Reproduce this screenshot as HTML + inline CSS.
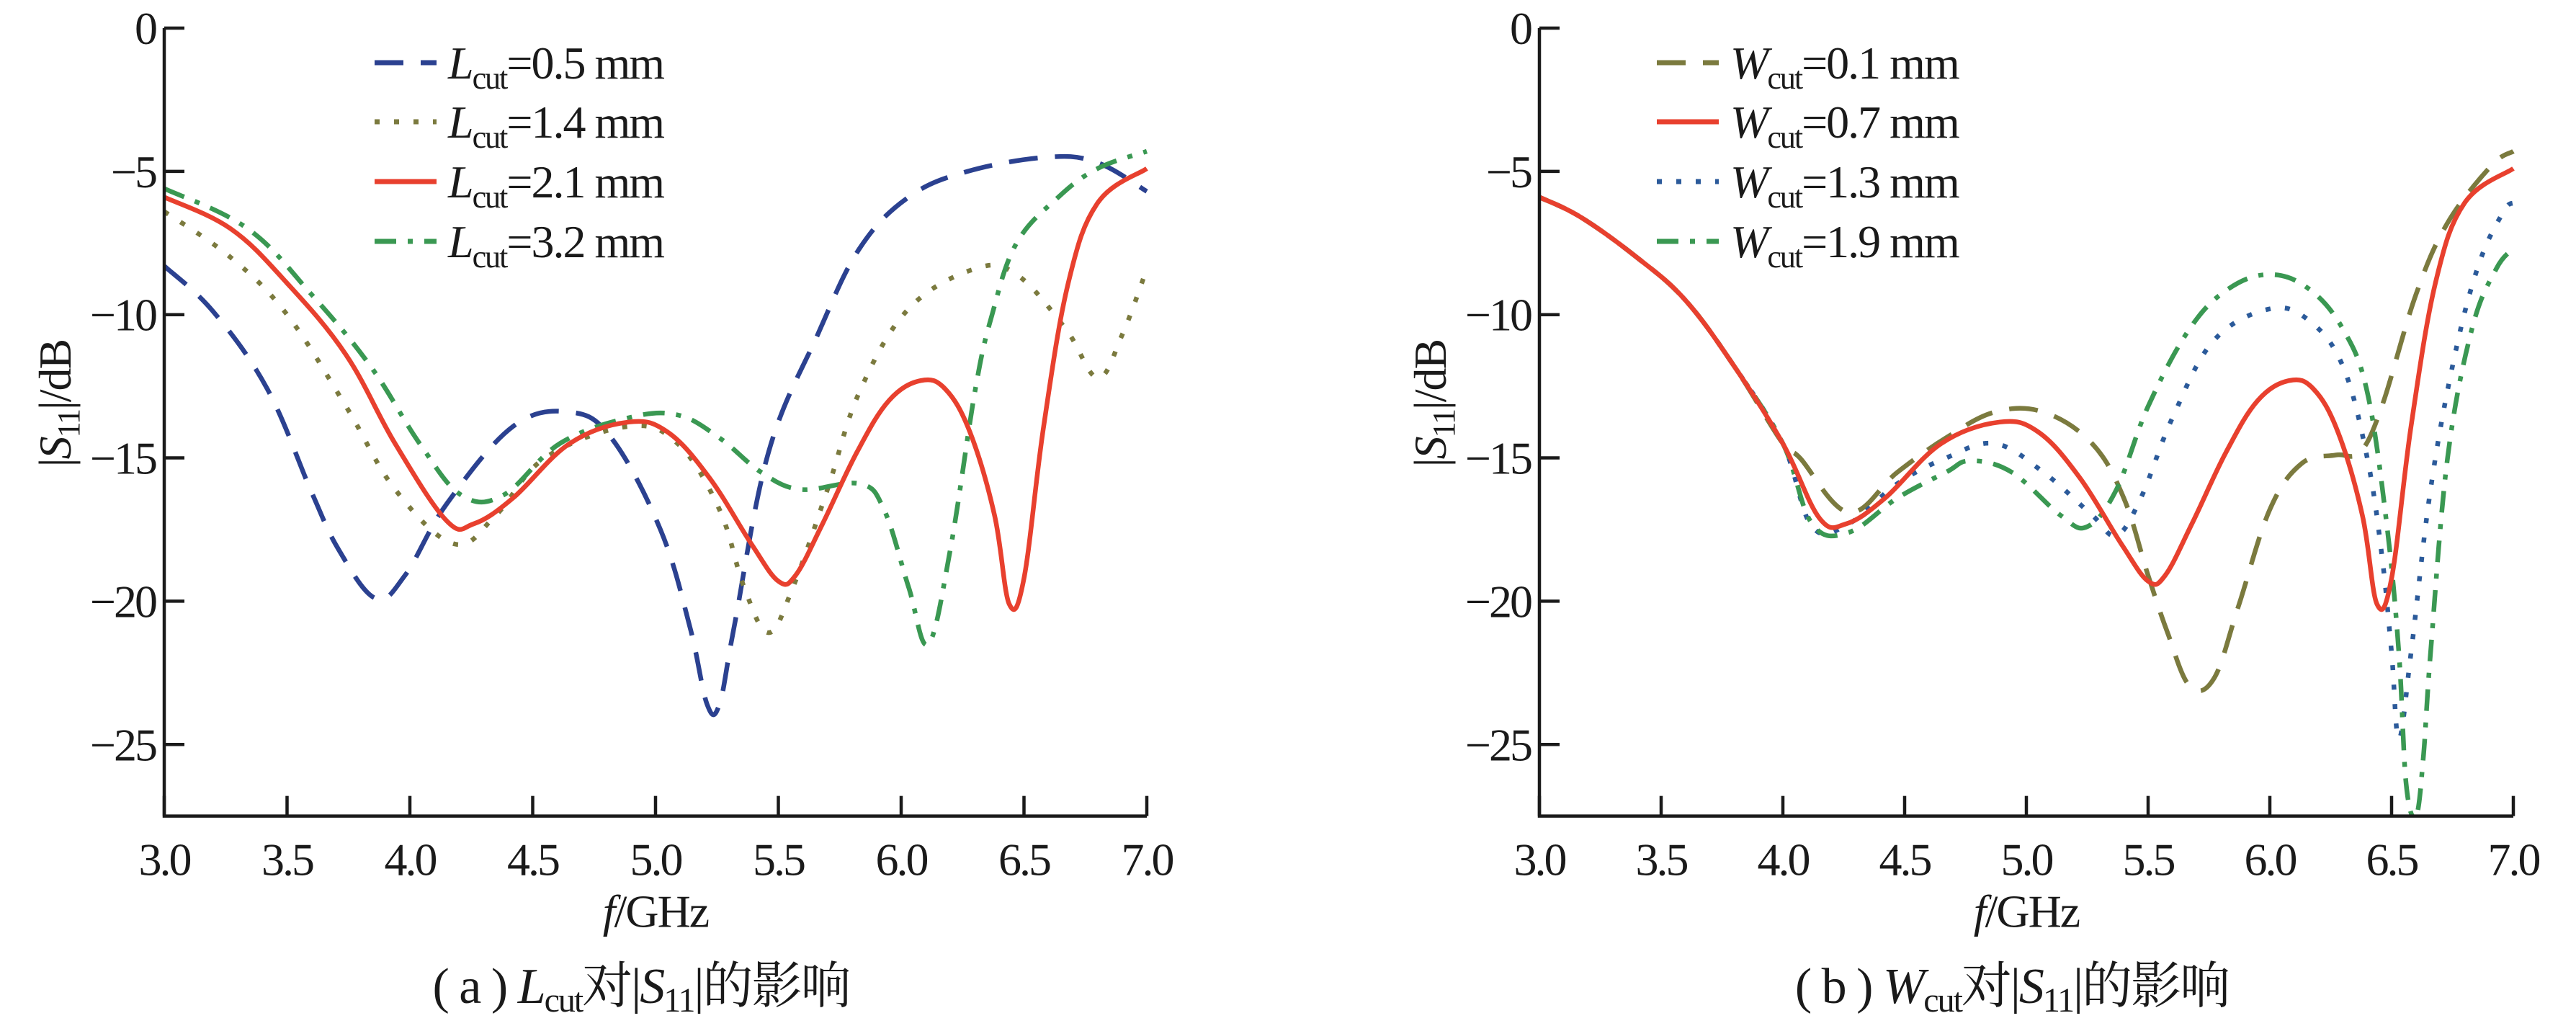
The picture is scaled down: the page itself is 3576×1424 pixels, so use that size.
<!DOCTYPE html>
<html><head><meta charset="utf-8"><style>
html,body{margin:0;padding:0;background:#fff;}
svg{display:block;}
text{font-family:"Liberation Serif","Noto Serif CJK SC",serif;fill:#1a1a1a;}
</style></head><body>
<svg id="fig" width="3576" height="1424" viewBox="0 0 3576 1424" xmlns="http://www.w3.org/2000/svg"></svg>
<script>
const xTicks=[3.0,3.5,4.0,4.5,5.0,5.5,6.0,6.5,7.0];
const xTickLabels=["3.0","3.5","4.0","4.5","5.0","5.5","6.0","6.5","7.0"];
const yTicks=[0,-5,-10,-15,-20,-25];
const yTickLabels=["0","\u22125","\u221210","\u221215","\u221220","\u221225"];
// Panel (a)
const aL05x=[3.0,3.2,3.42,3.6,3.71,3.86,3.98,4.15,4.42,4.65,4.82,5.02,5.14,5.21,5.26,5.32,5.46,5.66,5.83,6.03,6.27,6.6,6.8,7.0];
const aL05y=[-8.3,-9.9,-12.6,-16.2,-18.2,-19.9,-19.1,-16.6,-13.9,-13.4,-14.3,-17.5,-20.9,-23.6,-23.6,-20.9,-14.8,-10.7,-7.7,-5.9,-5.0,-4.5,-4.7,-5.7];
const aL14x=[3.0,3.27,3.5,3.74,3.94,4.18,4.35,4.55,4.89,5.09,5.26,5.36,5.46,5.56,5.7,5.83,6.03,6.3,6.47,6.67,6.8,6.9,7.0];
const aL14y=[-6.4,-8.0,-10.0,-13.2,-16.1,-18.0,-17.0,-15.0,-13.9,-14.5,-16.8,-19.5,-21.1,-19.5,-16.1,-12.7,-9.8,-8.4,-8.6,-10.5,-12.2,-10.7,-8.4];
const redX=[3.0,3.27,3.5,3.74,3.94,4.15,4.26,4.42,4.65,4.89,5.05,5.22,5.39,5.5,5.57,5.68,5.82,5.95,6.08,6.18,6.28,6.38,6.44,6.5,6.58,6.68,6.8,7.0];
const redY=[-5.9,-7.0,-8.9,-11.4,-14.5,-17.2,-17.3,-16.4,-14.5,-13.75,-14.1,-15.7,-18.0,-19.3,-19.1,-17.3,-14.8,-13.0,-12.3,-12.6,-14.1,-17.0,-20.1,-19.2,-13.9,-8.9,-6.1,-4.9];
const aL32x=[3.0,3.34,3.6,3.84,4.04,4.21,4.38,4.61,4.89,5.09,5.26,5.43,5.59,5.83,5.93,6.03,6.11,6.2,6.3,6.37,6.47,6.64,6.8,7.0];
const aL32y=[-5.6,-7.0,-9.3,-11.8,-14.5,-16.3,-16.3,-14.5,-13.6,-13.5,-14.3,-15.5,-16.1,-15.9,-16.8,-19.5,-21.5,-18.2,-12.7,-10.0,-7.5,-5.9,-4.9,-4.3];
// Panel (b)
const bW01x=[3.0,3.17,3.4,3.6,3.8,4.0,4.07,4.27,4.47,4.67,4.87,5.07,5.27,5.4,5.5,5.58,5.67,5.77,5.87,6.0,6.13,6.27,6.37,6.46,6.6,6.73,6.91,7.0];
const bW01y=[-5.9,-6.6,-8.0,-9.5,-11.8,-14.5,-15.0,-16.9,-15.5,-14.3,-13.4,-13.4,-14.5,-16.4,-19.1,-21.1,-22.95,-22.7,-20.2,-16.8,-15.2,-14.9,-14.8,-13.2,-9.3,-6.8,-4.8,-4.3];
const bW13x=[3.0,3.17,3.4,3.6,3.8,4.0,4.12,4.27,4.47,4.67,4.87,5.07,5.27,5.37,5.47,5.6,5.77,6.0,6.16,6.3,6.4,6.46,6.5,6.53,6.58,6.66,6.76,6.86,6.96,7.0];
const bW13y=[-5.9,-6.6,-8.0,-9.5,-11.8,-14.5,-17.4,-17.3,-15.9,-15.0,-14.5,-15.5,-17.0,-17.7,-16.4,-13.6,-10.9,-9.8,-10.2,-11.8,-15.0,-18.4,-21.8,-24.8,-21.8,-16.1,-11.4,-8.2,-6.4,-6.1];
const bW19x=[3.0,3.17,3.4,3.6,3.8,4.0,4.12,4.27,4.47,4.67,4.77,4.94,5.14,5.25,5.37,5.5,5.67,5.83,6.0,6.16,6.3,6.4,6.48,6.53,6.56,6.6,6.63,6.66,6.73,6.83,6.93,7.0];
const bW19y=[-5.9,-6.6,-8.0,-9.5,-11.8,-14.5,-17.3,-17.6,-16.4,-15.5,-15.1,-15.5,-17.0,-17.4,-16.1,-13.2,-10.5,-9.1,-8.6,-9.1,-10.5,-12.7,-17.3,-21.8,-26.4,-27.5,-25.5,-21.8,-15.0,-10.5,-8.4,-7.7];
const bRedX=[3.0,3.17,3.4,3.6,3.8,4.0,4.15,4.26,4.42,4.65,4.89,5.05,5.22,5.39,5.5,5.57,5.68,5.82,5.95,6.08,6.18,6.28,6.38,6.44,6.5,6.58,6.68,6.8,7.0];
const bRedY=[-5.9,-6.6,-8.0,-9.5,-11.8,-14.5,-17.1,-17.3,-16.4,-14.5,-13.75,-14.1,-15.7,-18.0,-19.3,-19.1,-17.3,-14.8,-13.0,-12.3,-12.6,-14.1,-17.0,-20.1,-19.2,-13.9,-8.9,-6.1,-4.9];

const NS="http://www.w3.org/2000/svg";
const svg=document.getElementById('fig');
function el(tag,attrs,parent){const e=document.createElementNS(NS,tag);for(const k in attrs)e.setAttribute(k,attrs[k]);(parent||svg).appendChild(e);return e;}
const Y0=39, PXDB=39.77, YMIN=-27.5;
function yS(v){return Y0-v*PXDB;}
const YB=yS(YMIN);

function smoothPath(pts){
  let d="M"+pts[0][0].toFixed(1)+","+pts[0][1].toFixed(1);
  for(let i=0;i<pts.length-1;i++){
    const p0=pts[i-1]||pts[i],p1=pts[i],p2=pts[i+1],p3=pts[i+2]||p2;
    const t=0.18;
    const c1=[p1[0]+(p2[0]-p0[0])*t,p1[1]+(p2[1]-p0[1])*t];
    const c2=[p2[0]-(p3[0]-p1[0])*t,p2[1]-(p3[1]-p1[1])*t];
    d+=" C"+c1[0].toFixed(1)+","+c1[1].toFixed(1)+" "+c2[0].toFixed(1)+","+c2[1].toFixed(1)+" "+p2[0].toFixed(1)+","+p2[1].toFixed(1);
  }
  return d;
}

const styles={
  blueDash:{stroke:"#2b4190",dash:"40 24"},
  oliveDot:{stroke:"#7b7a3e",dash:"7 20"},
  red:{stroke:"#e8402e",dash:""},
  greenDD:{stroke:"#3a9852",dash:"30 16 7 16"},
  oliveDash:{stroke:"#7b7a3e",dash:"40 24"},
  blueDot:{stroke:"#2b5a9a",dash:"7 20"}
};

function panel(id,X0,X1,series,legend,legendX,capLetter,capVar){
  const g=el('g',{});
  
  
  const xS=v=>X0+(v-3)/4*(X1-X0);
  const clipId=id+'-clip';
  const cp=el('clipPath',{id:clipId},g);el('rect',{x:X0,y:0,width:X1-X0+4,height:YB},cp);
  series.forEach(s=>{
    const pts=s.x.map((xv,i)=>[xS(xv),yS(s.y[i])]);
    const p=el('path',{d:smoothPath(pts),fill:'none',stroke:styles[s.st].stroke,'stroke-width':6.5,'stroke-dasharray':styles[s.st].dash,'stroke-linejoin':'round','clip-path':'url(#'+clipId+')'},g);
    
    
  });
  const ax=el('path',{d:`M${X0},${Y0} V${YB} H${X1}`,fill:'none',stroke:'#1a1a1a','stroke-width':4.5},g);
  
  
  yTicks.forEach((v,i)=>{
    el('line',{x1:X0,x2:X0+28,y1:yS(v),y2:yS(v),stroke:'#1a1a1a','stroke-width':4.5},g);
    const t=el('text',{x:X0-12,y:yS(v)+22,'font-size':64,'text-anchor':'end','letter-spacing':-3},g);
    t.textContent=yTickLabels[i];
    
    
  });
  xTicks.forEach((v,i)=>{
    el('line',{x1:xS(v),x2:xS(v),y1:YB,y2:YB-28,stroke:'#1a1a1a','stroke-width':4.5},g);
    const t=el('text',{x:xS(v),y:YB+82,'font-size':64,'text-anchor':'middle','letter-spacing':-3},g);
    t.textContent=xTickLabels[i];
    
    
  });
  const xt=el('text',{x:(X0+X1)/2,y:YB+154,'font-size':64,'text-anchor':'middle','letter-spacing':-2},g);
  xt.innerHTML='<tspan font-style="italic">f</tspan>/GHz';
  
  
  const yt=el('text',{x:0,y:0,'font-size':64,'text-anchor':'middle','letter-spacing':-2,transform:`translate(${X0-130},560) rotate(-90)`},g);
  yt.innerHTML='|<tspan font-style="italic">S</tspan><tspan font-size="44" dy="12">11</tspan><tspan dy="-12">|/dB</tspan>';
  
  
  const cap=el('text',{x:(X0+X1)/2-20,y:1392,'font-size':70,'text-anchor':'middle','letter-spacing':-2},g);
  cap.innerHTML=`( ${capLetter} ) <tspan font-style="italic">${capVar}</tspan><tspan font-size="48" dy="12">cut</tspan><tspan dy="-12">对|</tspan><tspan font-style="italic">S</tspan><tspan font-size="48" dy="12">11</tspan><tspan dy="-12">|的影响</tspan>`;
  
  
  const rows=[87,169,252,335];
  legend.forEach((L,i)=>{
    const lg=el('g',{},g);
    
    
    el('line',{x1:legendX,x2:legendX+86,y1:rows[i],y2:rows[i],stroke:styles[L.st].stroke,'stroke-width':7,'stroke-dasharray':styles[L.st].dash},lg);
    const t=el('text',{x:legendX+102,y:rows[i]+22,'font-size':64,'letter-spacing':-2},lg);
    t.innerHTML=`<tspan font-style="italic">${capVar}</tspan><tspan font-size="44" dy="14">cut</tspan><tspan dy="-14">=${L.v} mm</tspan>`;
  });
}

panel('panel-a',228,1592,[
  {x:aL05x,y:aL05y,st:'blueDash',name:'series-lcut-0.5'},
  {x:aL14x,y:aL14y,st:'oliveDot',name:'series-lcut-1.4'},
  {x:aL32x,y:aL32y,st:'greenDD',name:'series-lcut-3.2'},
  {x:redX,y:redY,st:'red',name:'series-lcut-2.1'}
],[{st:'blueDash',v:'0.5'},{st:'oliveDot',v:'1.4'},{st:'red',v:'2.1'},{st:'greenDD',v:'3.2'}],520,'a','L');

panel('panel-b',2137,3489,[
  {x:bW01x,y:bW01y,st:'oliveDash',name:'series-wcut-0.1'},
  {x:bW13x,y:bW13y,st:'blueDot',name:'series-wcut-1.3'},
  {x:bW19x,y:bW19y,st:'greenDD',name:'series-wcut-1.9'},
  {x:bRedX,y:bRedY,st:'red',name:'series-wcut-0.7'}
],[{st:'oliveDash',v:'0.1'},{st:'red',v:'0.7'},{st:'blueDot',v:'1.3'},{st:'greenDD',v:'1.9'}],2300,'b','W');
</script>
</body></html>
